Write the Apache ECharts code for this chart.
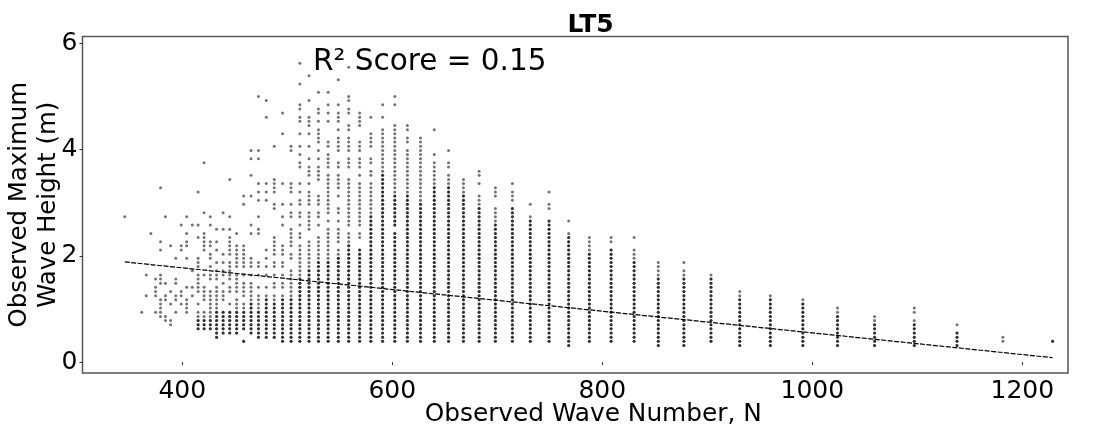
<!DOCTYPE html>
<html><head><meta charset="utf-8">
<style>html,body{margin:0;padding:0;background:#fff}#c{width:1097px;height:430px}</style>
<script src="https://cdn.jsdelivr.net/npm/echarts@6/dist/echarts.min.js"></script>
</head><body><div id="c"></div>
<script>
const chartTitle = "LT5";
const scoreText = "R² Score = 0.15";
const xName = "Observed Wave Number, N";
const yName = "Observed Maximum\nWave Height (m)";
const xTicks = [400,600,800,1000,1200];
const yTicks = [0,2,4,6];
const heightStep = 0.078125; // observed heights sit on this grid; lists below are grid levels
const fitX = [345.2,1228.8];
const fitY = [1.885,0.083];
const waveNumbers = [1228.8,1181.5,1137.8,1097.1,1059.3,1024,991,960,930.9,903.5,877.7,853.3,830.3,808.4,787.7,768,749.3,731.4,714.4,698.2,682.7,667.8,653.6,640,626.9,614.4,602.4,590.8,579.6,568.9,558.5,548.6,538.9,529.7,520.7,512,503.6,495.5,487.6,480,472.6,465.5,458.5,451.8,445.2,438.9,432.7,426.7,420.8,415.1,409.6,404.2,399,393.8,388.9,384,379.3,374.6,370.1,365.7,361.4,345.2];
// highest grid level in each column where repeated observations make the dots read darker
const repeatedUpTo = [5,0,7,9,9,11,14,15,15,20,20,20,24,27,26,30,34,34,37,33,37,40,42,42,38,40,40,45,35,27,28,25,24,24,22,20,15,15,14,15,12,14,12,12,12,12,12,10,10,10,0,0,0,0,0,0,0,0,0,0,0,0];
const n1229=[5];
const n1182=[5,6];
const n1138=[4,5,6,7,9];
const n1097=[4,5,6,7,8,9,10,12,13];
const n1059=[4,5,6,7,8,9,10,11];
const n1024=[4,5,6,7,8,9,10,11,12,13];
const n991=[4,5,6,7,8,9,10,11,12,13,14,15];
const n960=[4,5,6,7,8,9,10,11,12,13,14,15,16];
const n931=[4,5,6,7,8,9,10,11,12,13,14,15,16,17];
const n904=[5,6,7,8,9,10,11,12,13,14,15,16,17,18,19,20,21];
const n878=[4,5,6,7,8,9,10,11,12,13,14,15,16,17,18,19,20,21,22,24];
const n853=[4,5,6,7,8,9,10,11,12,13,14,15,16,17,18,19,20,21,22,23,24];
const n830=[5,6,7,8,9,10,11,12,13,14,15,16,17,18,19,20,21,22,23,24,25,26,27,30];
const n808=[5,6,7,8,9,10,11,12,13,14,15,16,17,18,19,20,21,22,23,24,25,26,27,29,30];
const n788=[5,6,7,8,9,10,11,12,13,14,15,16,17,18,19,20,21,22,23,24,25,26,27,28,29,30];
const n768=[4,5,6,7,8,9,10,11,12,13,14,15,16,17,18,19,20,21,22,23,24,25,26,27,28,29,30,31,34];
const n749=[5,6,7,8,9,10,11,12,13,14,15,16,17,18,19,20,21,22,23,24,25,26,27,28,29,30,31,32,33,34,37,38,41];
const n731=[5,6,7,8,9,10,11,12,13,14,15,16,17,18,19,20,21,22,23,24,25,26,27,28,29,30,31,32,33,34,35,38];
const n714=[5,6,7,8,9,10,11,12,13,14,15,16,17,18,19,20,21,22,23,24,25,26,27,28,29,30,31,32,33,34,35,36,37,39,40,41,43];
const n698=[5,6,7,8,9,10,11,12,13,14,15,16,17,18,19,20,21,22,23,24,25,26,27,28,29,30,31,32,33,34,35,36,37,40,41,42];
const n683=[5,6,7,8,9,10,11,12,13,14,15,16,17,18,19,20,21,22,23,24,25,26,27,28,29,30,31,32,33,34,35,36,37,38,39,40,43,45,46];
const n668=[5,6,7,8,9,10,11,12,13,14,15,16,17,18,19,20,21,22,23,24,25,26,27,28,29,30,31,32,33,34,35,36,37,38,39,40,41,42,43,44];
const n654=[5,6,7,8,9,10,11,12,13,14,15,16,17,18,19,20,21,22,23,24,25,26,27,28,29,30,31,32,33,34,35,36,37,38,39,40,41,42,43,44,45,47,48,51];
const n640=[5,6,7,8,9,10,11,12,13,14,15,16,17,18,19,20,21,22,23,24,25,26,27,28,29,30,31,32,33,34,35,36,37,38,39,40,41,42,43,44,45,46,47,48,50,56];
const n627=[5,6,7,8,9,10,11,12,13,14,15,16,17,18,19,20,21,22,23,24,25,26,27,28,29,30,31,32,33,34,35,36,37,38,39,40,41,42,43,44,45,46,47,48,49,50,51,52,53,54];
const n614=[5,6,7,8,9,10,11,12,13,14,15,16,17,18,19,20,21,22,23,24,25,26,27,28,29,30,31,32,33,34,35,36,37,38,39,40,41,42,43,44,45,46,47,48,49,50,51,53,54,56,57];
const n602=[5,6,7,8,9,10,11,12,13,14,15,16,17,18,19,20,21,22,23,24,25,26,27,28,29,30,31,33,34,35,36,37,38,39,40,41,42,43,44,45,46,47,48,49,50,51,52,53,54,55,56,57,62,64];
const n591=[5,6,7,8,9,10,11,12,13,14,15,16,17,18,19,20,21,22,23,24,25,26,27,28,29,30,31,32,33,34,35,36,37,38,39,40,41,42,43,44,45,46,47,48,49,50,51,52,53,54,55,56,59,62];
const n580=[5,6,7,8,9,10,11,12,13,14,15,16,17,18,19,20,21,22,23,24,25,26,27,28,29,30,31,32,33,34,35,36,37,38,39,40,41,42,43,45,46,48,49,52,53,54,55,59];
const n569=[5,6,7,8,9,10,11,12,13,14,15,16,17,18,19,20,21,22,23,24,25,26,27,30,31,33,34,35,36,37,38,39,40,41,42,43,45,47,48,49,51,52,53,57,58,59,60];
const n559=[5,6,7,8,9,10,11,12,13,14,15,16,17,18,19,20,21,22,23,24,25,26,27,28,29,30,31,33,34,35,36,37,38,39,40,41,42,43,44,47,48,49,51,52,53,54,56,57,60,61,63,64,71];
const n549=[5,6,7,8,9,10,11,12,13,14,15,16,17,18,19,20,21,22,23,24,25,26,27,29,30,31,32,34,36,37,40,42,43,44,45,47,48,51,52,53,54,56,58,59,60,62,68];
const n539=[5,6,7,8,9,10,11,12,13,14,15,16,17,18,19,20,21,22,23,24,25,26,27,28,29,30,31,32,34,36,37,38,39,40,41,42,43,44,45,47,48,49,50,52,53,58,60,62,65];
const n530=[5,6,7,8,9,10,11,12,13,14,15,16,17,18,19,20,21,22,23,24,25,26,27,28,29,30,33,35,36,38,39,40,44,45,46,47,49,51,53,54,55,56,58,60,61,65];
const n521=[5,6,7,8,9,10,11,12,13,14,15,16,17,18,19,20,21,22,23,24,25,26,27,28,29,32,33,34,35,36,38,39,40,41,43,45,46,47,49,52,55,57,58,59,63,69];
const n512=[5,6,7,8,9,10,11,12,13,14,15,16,17,18,19,20,21,22,23,24,25,26,27,28,30,31,33,35,36,38,39,41,43,47,48,50,52,55,58,59,61,62,67,72];
const n504=[5,6,7,8,9,10,11,12,13,14,15,16,17,18,19,20,21,22,25,26,28,29,30,31,32,35,36,38,41,42,43,51,52];
const n496=[5,6,7,8,9,10,11,12,13,14,15,16,18,19,21,23,24,26,27,28,33,35,38,43,55,60];
const n488=[6,7,8,9,10,11,12,13,14,15,16,18,19,21,23,24,26,27,28,29,30,37,38,41,42,43,44,52];
const n480=[6,7,8,9,10,11,12,13,14,15,16,18,21,23,25,27,39,41,43,59,63];
const n473=[6,7,8,9,10,11,12,13,14,15,16,18,21,23,24,31,32,35,39,41,43,49,51,64];
const n466=[7,8,9,10,11,12,13,14,15,16,17,18,19,21,23,24,25,31,33,40,45,49,51];
const n459=[5,8,9,10,11,12,13,14,16,17,18,19,21,23,24,25,26,27,28,38,40];
const n452=[7,8,9,10,11,12,13,14,15,17,18,19,20,21,23,24,25,26,27,28,31];
const n445=[7,8,9,10,11,12,14,17,18,20,21,22,23,24,26,27,28,29,30,32,35,44];
const n439=[7,8,9,10,11,12,15,16,17,19,21,22,24,26,32,36];
const n433=[6,7,8,9,10,11,12,13,14,15,16,17,18,20,21,22,24,27,29,32];
const n427=[8,9,10,11,12,13,14,15,16,17,20,21,23,25,26,28,29,33,35];
const n421=[8,9,10,11,12,15,16,17,18,21,27,28,29,30,31,36,48];
const n415=[8,9,10,11,12,14,17,18,19,20,21,23,24,25,30,33,41];
const n410=[16,18,22,33];
const n404=[12,13,14,15,18,25,28,29,31,35];
const n399=[14,16,17,27,28,33];
const n394=[12,15,16,19,20,25];
const n389=[9,10,14,17,28];
const n384=[10,11,15,16,19,35];
const n379=[11,12,13,14,15,19,20,21,27,29,42];
const n375=[12,16,17,18,20];
const n370=[31];
const n366=[16,21];
const n361=[12];
const n345=[35];
const levelColumns = [n1229,n1182,n1138,n1097,n1059,n1024,n991,n960,n931,n904,n878,n853,n830,n808,n788,n768,n749,n731,n714,n698,n683,n668,n654,n640,n627,n614,n602,n591,n580,n569,n559,n549,n539,n530,n521,n512,n504,n496,n488,n480,n473,n466,n459,n452,n445,n439,n433,n427,n421,n415,n410,n404,n399,n394,n389,n384,n379,n375,n370,n366,n361,n345];

const points = [], repeats = [];
waveNumbers.forEach((n,i)=>levelColumns[i].forEach(k=>{
  points.push([n,k*heightStep]);
  if(k<=repeatedUpTo[i]) repeats.push([n,k*heightStep]);
}));
const fit = fitX.map((x,i)=>[x,fitY[i]]);
const font = "DejaVu Sans";
const chart = echarts.init(document.getElementById('c'),null,{renderer:'canvas'});
chart.setOption({
  animation:false,
  backgroundColor:'#fff',
  title:[
    {text:chartTitle,left:585.5,top:8,textAlign:'center',textStyle:{fontFamily:font,fontWeight:'bold',fontSize:25,color:'#000'}},
    {text:scoreText,left:308,top:42,textStyle:{fontFamily:font,fontWeight:'normal',fontSize:29.5,color:'#000'}}
  ],
  grid:{left:82.5,top:36.5,right:29,bottom:57,outerBoundsMode:'none',show:true,borderColor:'#555',borderWidth:1.5,backgroundColor:'transparent'},
  xAxis:{type:'value',min:305,max:1243.5,name:xName,nameLocation:'middle',nameGap:29,nameMoveOverlap:false,
    nameTextStyle:{fontFamily:font,fontSize:24.8,color:'#000',padding:[0,0,0,36]},
    splitLine:{show:false},axisLine:{show:false},
    axisTick:{show:true,length:3,customValues:xTicks,lineStyle:{color:'#333',width:1}},
    axisLabel:{customValues:xTicks,formatter:v=>String(v),fontFamily:font,fontSize:25,color:'#000',margin:6}},
  yAxis:{type:'value',min:-0.206,max:6.128,name:yName,nameLocation:'middle',nameGap:19,nameMoveOverlap:false,
    nameTextStyle:{fontFamily:font,fontSize:24.4,color:'#000',lineHeight:29},
    splitLine:{show:false},axisLine:{show:false},
    axisTick:{show:true,length:3,customValues:yTicks,lineStyle:{color:'#333',width:1}},
    axisLabel:{customValues:yTicks,formatter:v=>String(v),fontFamily:font,fontSize:25,color:'#000',margin:5}},
  series:[
    {type:'scatter',data:points,symbol:'circle',symbolSize:3,itemStyle:{color:'#000',opacity:0.55},silent:true,clip:true},
    {type:'scatter',data:repeats,symbol:'circle',symbolSize:3,itemStyle:{color:'#000',opacity:0.6},silent:true,clip:true},
    {type:'line',data:fit,symbol:'none',lineStyle:{color:'#000',width:1.2,type:[5,1.5]},silent:true}
  ]
});
</script></body></html>
